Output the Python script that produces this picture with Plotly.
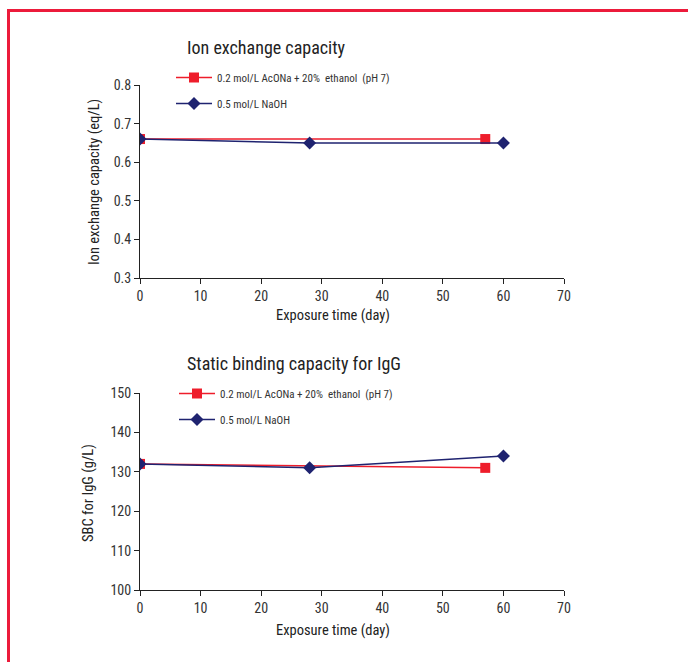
import plotly.graph_objects as go

# Data
series_names = ["0.2 mol/L AcONa + 20%  ethanol  (pH 7)", "0.5 mol/L NaOH"]
days_acona = [0, 57]
days_naoh = [0, 28, 60]
iec_acona = [0.66, 0.66]
iec_naoh = [0.66, 0.65, 0.65]
sbc_acona = [132, 131]
sbc_naoh = [132, 131, 134]

W, H = 688, 662
RED = "#EE1D2B"
NAVY = "#1F2370"
FONT = "Liberation Sans Narrow, Roboto Condensed, Arial Narrow, Roboto, sans-serif"

def px(x):
    return x / W

def py(y):
    return 1 - y / H

fig = go.Figure()

# top chart
fig.add_trace(go.Scatter(x=days_acona, y=iec_acona, mode="lines+markers", name=series_names[0],
                         line=dict(color=RED, width=1.5), marker=dict(symbol="square", size=10, color=RED),
                         xaxis="x", yaxis="y", legend="legend", legendgroup="a"))
fig.add_trace(go.Scatter(x=days_naoh, y=iec_naoh, mode="lines+markers", name=series_names[1],
                         line=dict(color=NAVY, width=1.5), marker=dict(symbol="diamond", size=10, color=NAVY),
                         xaxis="x", yaxis="y", legend="legend", legendgroup="b"))
# bottom chart
fig.add_trace(go.Scatter(x=days_acona, y=sbc_acona, mode="lines+markers", name=series_names[0],
                         line=dict(color=RED, width=1.5), marker=dict(symbol="square", size=10, color=RED),
                         xaxis="x2", yaxis="y2", legend="legend2", legendgroup="c"))
fig.add_trace(go.Scatter(x=days_naoh, y=sbc_naoh, mode="lines+markers", name=series_names[1],
                         line=dict(color=NAVY, width=1.5), marker=dict(symbol="diamond", size=10, color=NAVY),
                         xaxis="x2", yaxis="y2", legend="legend2", legendgroup="d"))

axis_common = dict(showline=True, linecolor="#222", linewidth=1, ticks="outside", ticklen=5,
                   tickcolor="#222", showgrid=False, zeroline=False, automargin=False,
                   tickfont=dict(family=FONT, size=14, color="#333"))

xdom = [px(140), px(564)]
fig.update_layout(
    width=W, height=H, margin=dict(l=0, r=0, t=0, b=0, pad=0, autoexpand=False),
    paper_bgcolor="white", plot_bgcolor="white",
    font=dict(family=FONT, color="#333"),
    xaxis=dict(domain=xdom, range=[0, 70], dtick=10, anchor="y", **axis_common),
    yaxis=dict(domain=[py(278), py(85)], range=[0.3, 0.8], dtick=0.1, tickformat=".1f", anchor="x", **axis_common),
    xaxis2=dict(domain=xdom, range=[0, 70], dtick=10, anchor="y2", **axis_common),
    yaxis2=dict(domain=[py(590), py(393)], range=[100, 150], dtick=10, anchor="x2", **axis_common),
    legend=dict(x=px(171), y=py(63), xanchor="left", yanchor="top", bgcolor="rgba(0,0,0,0)",
                font=dict(family=FONT, size=11, color="#333"), tracegroupgap=7, itemwidth=36),
    legend2=dict(x=px(174), y=py(379), xanchor="left", yanchor="top", bgcolor="rgba(0,0,0,0)",
                 font=dict(family=FONT, size=11, color="#333"), tracegroupgap=7, itemwidth=36),
)

ann = []
def text(x, y, s, size, angle=0, xanchor="center"):
    ann.append(dict(x=px(x), y=py(y), xref="paper", yref="paper", text=s, showarrow=False,
                    xanchor=xanchor, yanchor="middle", textangle=angle,
                    font=dict(family=FONT, size=size, color="#222")))

text(185, 47, "Ion exchange capacity", 18, xanchor="left")
text(185, 363, "Static binding capacity for IgG", 18, xanchor="left")
text(333, 315, "Exposure time (day)", 14.5)
text(333, 630, "Exposure time (day)", 14.5)
text(94, 182, "Ion exchange capacity (eq/L)", 14.5, angle=-90)
text(88, 493, "SBC for IgG (g/L)", 14.5, angle=-90)
fig.update_layout(annotations=ann)

# red frame
fig.add_shape(type="line", xref="paper", yref="paper", x0=px(8.5), x1=1.0, y0=py(10.5), y1=py(10.5),
              line=dict(color="#EC1B3B", width=3))
fig.add_shape(type="line", xref="paper", yref="paper", x0=px(8.5), x1=px(8.5), y0=py(9), y1=0,
              line=dict(color="#EC1B3B", width=3))

post = ("document.documentElement.style.margin='0';document.documentElement.style.overflow='hidden';"
        "document.body.style.margin='0';document.body.style.overflow='hidden';"
        "var gd=document.getElementById('{plot_id}');gd.style.position='fixed';gd.style.left='0px';gd.style.top='0px';")
fig.write_html("out.html", config={"displayModeBar": False}, post_script=post)
